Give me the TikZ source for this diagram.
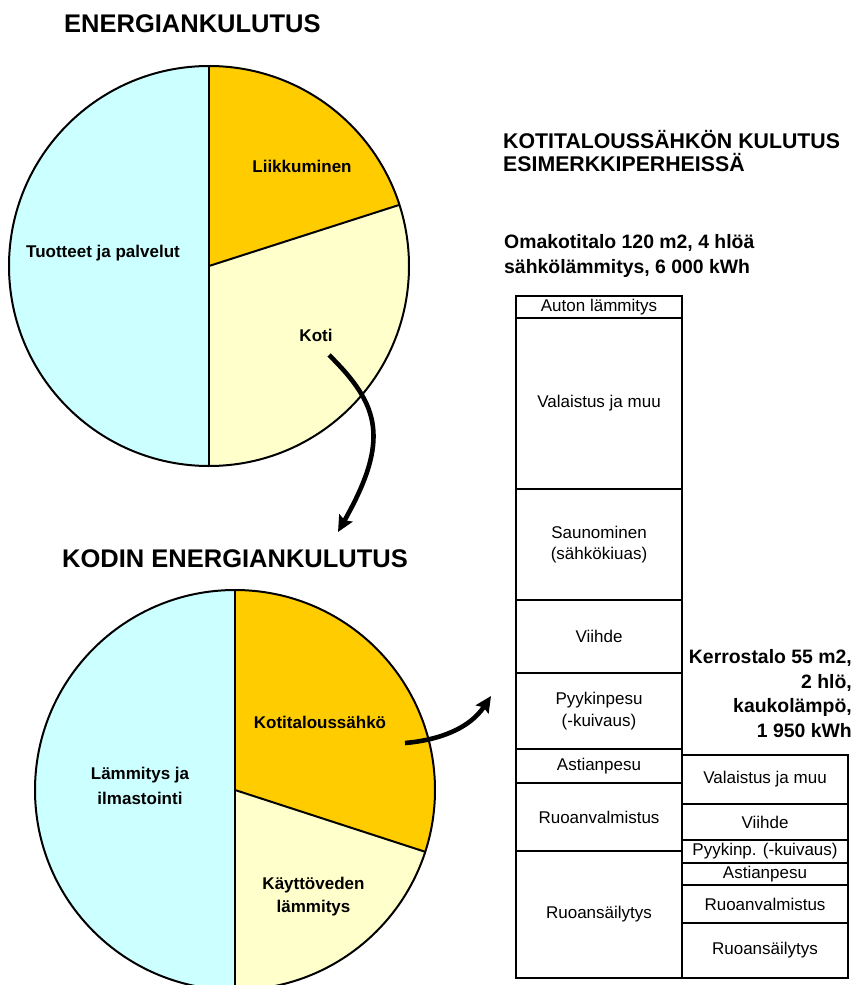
\documentclass[tikz,border=0pt]{standalone}
\usepackage{fontspec}
\setmainfont{Liberation Sans}
\usetikzlibrary{arrows.meta}
\definecolor{pcyan}{HTML}{CCFFFF}
\definecolor{porange}{HTML}{FFCC00}
\definecolor{pyellow}{HTML}{FFFFCC}
\begin{document}
\begin{tikzpicture}[x=1pt,y=1pt,
 slice/.style={draw=black,line width=2pt,line join=round},
 ttl/.style={font=\fontsize{25.5}{30}\selectfont\bfseries,inner sep=0,anchor=base west},
 hdg/.style={font=\fontsize{21.3}{25}\selectfont\bfseries,inner sep=0,anchor=base west},
 sub/.style={font=\fontsize{19.4}{24}\selectfont\bfseries,inner sep=0},
 plabel/.style={font=\fontsize{17}{24}\selectfont\bfseries,inner sep=0,anchor=base},
 barbox/.style={draw=black,line width=1.5pt,minimum width=166pt,inner sep=0,font=\fontsize{17}{21.5}\selectfont,align=center},
 bigarrow/.style={line width=4.6pt,-{Stealth[length=16pt,width=15pt,inset=2.5pt]}}]

\useasboundingbox (0,0) rectangle (855,-985);

% ---------- top pie ----------
\coordinate (T) at (209,-266);
\fill[pcyan] (T) -- ++(90:200) arc[start angle=90,end angle=270,radius=200] -- cycle;
\fill[porange] (T) -- ++(17.8:200) arc[start angle=17.8,end angle=90,radius=200] -- cycle;
\fill[pyellow] (T) -- ++(-90:200) arc[start angle=-90,end angle=17.8,radius=200] -- cycle;
\draw[slice] (T) circle[radius=200];
\draw[slice] (T) ++(0,200) -- ++(0,-400);
\draw[slice] (T) -- ++(17.8:200);

% ---------- bottom pie ----------
\begin{scope}
\clip (0,0) rectangle (855,-985);
\coordinate (B) at (235,-790);
\fill[pcyan] (B) -- ++(90:200) arc[start angle=90,end angle=270,radius=200] -- cycle;
\fill[porange] (B) -- ++(-18:200) arc[start angle=-18,end angle=90,radius=200] -- cycle;
\fill[pyellow] (B) -- ++(-90:200) arc[start angle=-90,end angle=-18,radius=200] -- cycle;
\draw[slice] (B) circle[radius=200];
\draw[slice] (B) ++(0,200) -- ++(0,-400);
\draw[slice] (B) -- ++(-18:200);
\end{scope}

% ---------- titles ----------
\node[ttl] (t1) at (64,-32) {ENERGIANKULUTUS};
\node[ttl] (t2) at (62,-567) {KODIN ENERGIANKULUTUS};
\node[hdg] (h1) at (503,-148) {KOTITALOUSSÄHKÖN KULUTUS};
\node[hdg] (h2) at (503,-171.5) {ESIMERKKIPERHEISSÄ};
\node[sub,anchor=base west] (s1) at (504,-248) {Omakotitalo 120 m2, 4 hlöä};
\node[sub,anchor=base west] (s2) at (504,-273) {sähkölämmitys, 6 000 kWh};
\node[sub,anchor=base east] (k1) at (852,-663) {Kerrostalo 55 m2,};
\node[sub,anchor=base east] (k2) at (852,-688) {2 hlö,};
\node[sub,anchor=base east] (k3) at (852,-712.5) {kaukolämpö,};
\node[sub,anchor=base east] (k4) at (852,-737) {1 950 kWh};

% ---------- pie labels ----------
\node[plabel] (l1) at (302,-172) {Liikkuminen};
\node[plabel] (l2) at (103,-257) {Tuotteet ja palvelut};
\node[plabel] (l3) at (316,-341) {Koti};
\node[plabel] (l4) at (320,-728.5) {Kotitaloussähkö};
\node[plabel] (l5a) at (140,-779) {Lämmitys ja};
\node[plabel] (l5b) at (140,-804) {ilmastointi};
\node[plabel] (l6a) at (313.5,-889) {Käyttöveden};
\node[plabel] (l6b) at (313.5,-912) {lämmitys};

% ---------- bars: left column ----------
\node[barbox,minimum height=22pt] (a1) at (599,-307) {Auton lämmitys};
\node[barbox,minimum height=171pt] (a2) at (599,-403.5) {Valaistus ja muu};
\node[barbox,minimum height=111pt] (a3) at (599,-544.5) {Saunominen\\(sähkökiuas)};
\node[barbox,minimum height=73pt] (a4) at (599,-636.5) {Viihde};
\node[barbox,minimum height=76pt] (a5) at (599,-711) {Pyykinpesu\\(-kuivaus)};
\node[barbox,minimum height=34pt] (a6) at (599,-766) {Astianpesu};
\node[barbox,minimum height=68pt] (a7) at (599,-817) {Ruoanvalmistus};
\node[barbox,minimum height=127pt] (a8) at (599,-914.5) {Ruoansäilytys};

% ---------- bars: right column ----------
\node[barbox,minimum height=49pt] (b1) at (765,-779.5) {Valaistus ja muu};
\node[barbox,minimum height=36pt] (b2) at (765,-822) {Viihde};
\node[barbox,minimum height=23pt] (b3) at (765,-851.5) {Pyykinp. (-kuivaus)};
\node[barbox,minimum height=22pt] (b4) at (765,-874) {Astianpesu};
\node[barbox,minimum height=38pt] (b5) at (765,-904) {Ruoanvalmistus};
\node[barbox,minimum height=55pt] (b6) at (765,-950.5) {Ruoansäilytys};

% ---------- arrows ----------
\coordinate (r1s) at (329,-355);
\coordinate (r1e) at (338,-532);
\draw[bigarrow] (r1s) .. controls (380,-405) and (390,-440) .. (r1e);
\coordinate (r2s) at (405,-743);
\coordinate (r2e) at (491,-696);
\draw[bigarrow] (r2s) .. controls (440,-740) and (470,-728) .. (r2e);
\end{tikzpicture}
\end{document}
